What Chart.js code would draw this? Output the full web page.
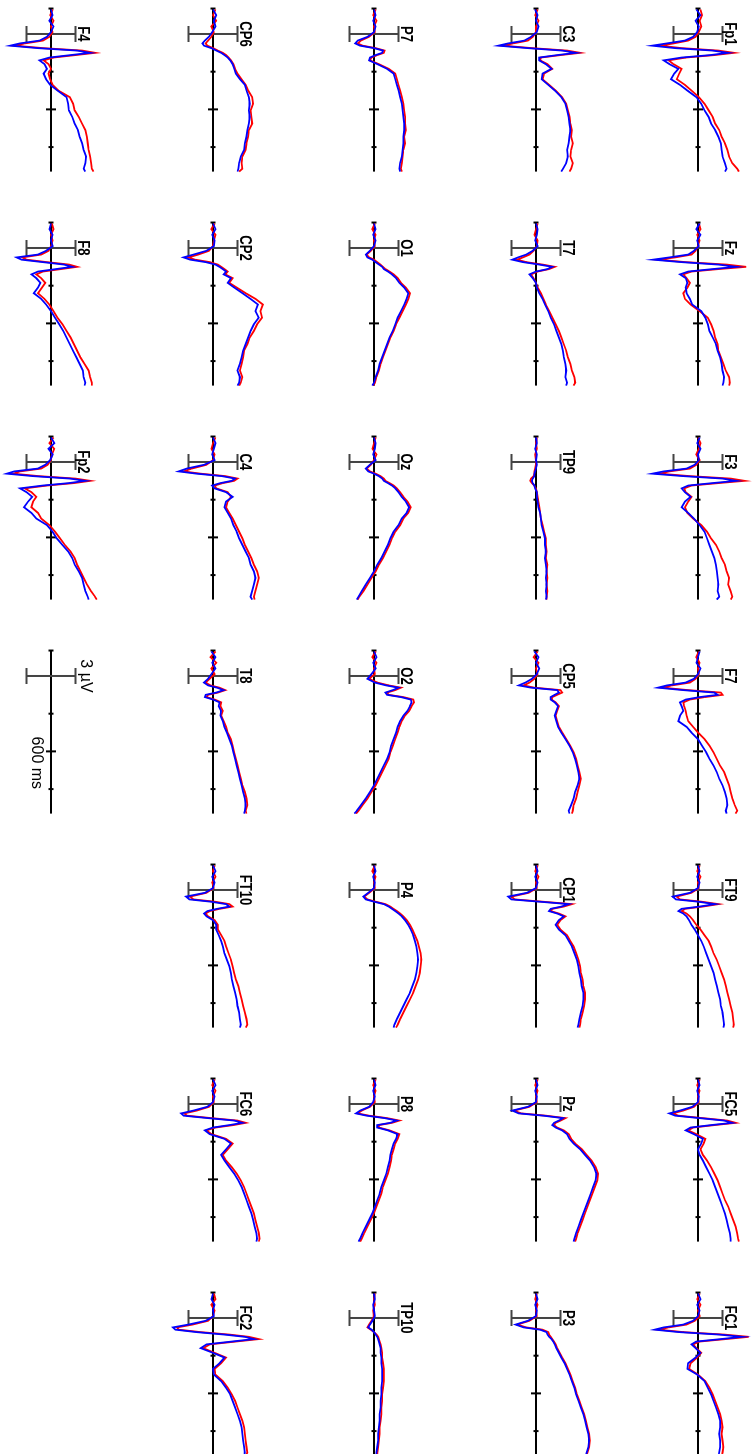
<!DOCTYPE html>
<html>
<head>
<meta charset="utf-8">
<title>ERP grand averages</title>
<script src="https://cdn.jsdelivr.net/npm/chart.js@4.4.1/dist/chart.umd.min.js"></script>
<style>
  html, body { margin: 0; padding: 0; background: #fff; overflow: hidden; }
  body { width: 753px; height: 1454px; position: relative; }
  /* the figure is laid out landscape and turned a quarter clockwise */
  #stage {
    position: absolute; left: 0; top: 0;
    width: 1454px; height: 753px;
    transform-origin: 0 0;
    transform: translate(753px, 0) rotate(90deg);
  }
  #stage canvas { position: absolute; }
</style>
</head>
<body>
<div id="stage"></div>
<script>
// time points (ms) shared by every trace
const times = [-130, -100, -70, -40, -10, 15, 35, 50, 62, 75, 88, 100, 112, 125, 140, 160, 185, 210,
               240, 270, 300, 335, 370, 405, 440, 475, 510, 545, 580, 615, 650, 685, 715, 730];

// amplitudes in µV, red = condition 1, blue = condition 2
const fp1Red  = [0.3,0.5,0.2,0.4,0.1,-0.3,-1.2,-3.0,-4.6,-2.0,2.5,4.4,2.0,-1.5,-3.6,-3.0,-2.0,-2.3,-2.6,-1.6,-0.8,0.1,0.8,1.3,1.8,2.1,2.6,2.9,3.3,3.6,3.8,4.2,4.8,5.0];
const fp1Blue = [-0.2,0.3,-0.3,0.1,-0.1,-0.6,-1.6,-3.8,-5.6,-2.8,1.8,3.7,1.5,-2.0,-4.2,-3.5,-2.4,-2.9,-3.3,-2.2,-1.3,-0.2,0.4,0.8,1.3,1.6,2.1,2.5,2.8,2.9,3.0,3.3,3.5,3.3];
const fzRed   = [0.1,0.3,-0.1,0.2,0.0,-0.3,-0.8,-2.8,-4.9,-1.5,3.5,5.9,2.5,-0.8,-1.8,-1.4,-1.0,-1.3,-1.8,-1.6,-0.9,0.2,1.2,1.6,1.9,2.1,2.4,2.5,2.8,3.1,3.4,3.8,3.9,3.8];
const fzBlue  = [0.2,-0.2,0.3,-0.1,0.1,-0.5,-1.2,-3.5,-5.5,-2.0,2.5,4.7,1.8,-1.2,-2.2,-1.5,-1.3,-1.5,-1.4,-1.0,-0.7,0.4,0.9,1.2,1.4,1.8,2.2,2.4,2.7,2.9,3.0,3.2,3.1,3.0];
const f3Red   = [0.0,0.3,0.1,-0.2,0.2,-0.2,-1.0,-3.5,-4.7,-1.0,4.0,5.7,2.5,-0.8,-1.7,-1.5,-0.8,-1.2,-1.6,-1.3,-0.6,0.4,1.1,1.6,2.2,2.6,2.9,3.3,3.5,3.8,3.7,4.0,4.2,4.0];
const f3Blue  = [0.2,-0.1,0.3,0.0,0.1,-0.4,-1.4,-4.2,-5.6,-1.8,3.0,4.7,1.8,-1.2,-2.0,-1.6,-0.9,-1.6,-2.0,-1.2,-0.5,0.2,0.8,1.1,1.4,1.7,2.0,2.2,2.3,2.4,2.5,2.4,2.6,2.3];
const f7Red   = [0.1,-0.2,0.2,0.0,0.1,-0.3,-1.0,-3.2,-4.3,-1.2,2.8,3.0,0.8,-1.0,-1.8,-1.7,-1.5,-1.4,-1.2,-0.6,0.0,0.8,1.4,1.9,2.3,2.7,3.2,3.5,3.8,4.0,4.2,4.5,4.8,4.6];
const f7Blue  = [0.2,0.0,-0.2,0.3,0.0,-0.5,-1.5,-3.8,-4.9,-1.8,2.0,2.4,0.2,-1.5,-2.2,-2.0,-1.8,-2.2,-2.4,-1.4,-0.8,0.0,0.5,1.0,1.4,1.9,2.3,2.6,3.0,3.3,3.5,3.6,3.4,3.5];
const ft9Red  = [0.2,-0.1,0.3,0.0,0.1,-0.8,-2.6,-2.2,0.4,2.5,0.6,-1.6,-2.0,-1.4,-1.0,-0.6,-0.2,0.3,0.8,1.3,1.6,1.9,2.3,2.6,2.9,3.2,3.4,3.6,3.8,4.0,4.2,4.3,4.4,4.3];
const ft9Blue = [0.0,0.2,-0.1,0.2,0.0,-1.0,-3.1,-2.7,0.0,2.1,0.2,-2.0,-2.4,-1.8,-1.4,-1.1,-0.8,-0.4,0.0,0.4,0.7,1.0,1.3,1.6,1.9,2.1,2.3,2.5,2.7,2.8,3.0,3.1,3.2,3.1];
const fc5Red  = [0.2,-0.1,0.2,0.0,0.1,-0.5,-1.8,-3.1,-2.4,0.6,3.6,4.6,2.0,-0.6,-1.2,-0.2,0.9,0.7,0.3,0.6,1.1,1.6,2.0,2.4,2.7,3.0,3.3,3.7,4.0,4.3,4.6,4.8,4.9,5.0];
const fc5Blue = [0.0,0.2,-0.1,0.1,0.0,-0.7,-2.2,-3.5,-2.8,0.2,3.2,4.2,1.6,-0.9,-1.5,-0.5,0.6,0.4,0.0,0.2,0.6,1.0,1.4,1.8,2.1,2.4,2.7,3.0,3.3,3.5,3.7,3.9,4.0,4.0];
const fc1Red  = [0.2,-0.1,0.3,0.0,0.2,-0.4,-1.4,-3.6,-4.8,-1.8,3.2,6.2,3.4,0.2,-0.6,-0.2,0.4,-0.1,-0.9,-1.1,0.0,0.9,1.4,1.8,2.1,2.4,2.7,2.9,3.0,2.9,3.0,3.1,3.0,2.9];
const fc1Blue = [0.0,0.3,-0.1,0.2,0.0,-0.6,-1.8,-4.2,-5.3,-2.3,2.6,5.4,2.8,-0.2,-0.8,-0.3,0.3,-0.3,-1.2,-1.3,-0.1,0.8,1.2,1.6,1.9,2.2,2.5,2.7,2.7,2.6,2.7,2.7,2.6,2.5];

const c3Red   = [0.2,-0.1,0.3,0.0,0.0,-0.4,-1.0,-2.8,-4.0,-0.5,3.8,5.4,3.0,0.6,0.5,1.4,2.0,1.0,0.8,1.6,2.4,3.2,3.7,3.9,4.1,4.2,4.4,4.3,4.5,4.3,4.2,4.5,4.3,4.1];
const c3Blue  = [-0.1,0.2,0.0,0.3,0.1,-0.6,-1.4,-3.4,-4.6,-1.0,3.2,4.9,2.6,0.4,0.4,1.2,1.9,0.8,0.7,1.5,2.3,3.1,3.6,3.8,4.0,4.1,4.2,4.1,4.0,3.8,3.9,3.7,3.3,3.1];
const t7Red   = [0.2,0.0,-0.2,0.2,0.1,-0.3,-0.8,-1.6,-2.3,-1.2,0.8,2.3,1.6,0.2,-0.6,-0.3,0.0,0.2,0.6,0.9,1.2,1.6,2.0,2.4,2.8,3.1,3.4,3.7,3.9,4.2,4.4,4.7,4.8,4.6];
const t7Blue  = [0.0,0.2,0.1,-0.1,0.2,-0.4,-1.2,-2.2,-2.9,-1.6,0.4,2.0,1.4,0.0,-0.8,-0.4,0.0,0.1,0.4,0.8,1.1,1.5,1.8,2.2,2.5,2.8,3.1,3.3,3.4,3.6,3.7,3.6,3.8,3.7];
const tp9Red  = [0.1,0.0,0.1,-0.1,0.0,0.0,-0.1,-0.2,-0.2,-0.3,-0.6,-0.7,-0.5,-0.2,0.0,0.1,0.2,0.3,0.4,0.5,0.6,0.8,1.0,1.2,1.2,1.3,1.2,1.4,1.3,1.4,1.3,1.4,1.3,1.3];
const tp9Blue = [0.0,0.1,-0.1,0.1,0.0,0.1,0.0,-0.1,-0.2,-0.2,-0.4,-0.5,-0.4,-0.2,-0.1,0.1,0.1,0.2,0.3,0.5,0.6,0.7,0.9,1.1,1.1,1.2,1.1,1.2,1.3,1.2,1.3,1.2,1.3,1.2];
const cp5Red  = [0.2,-0.3,0.3,0.0,0.2,-0.2,-0.8,-1.5,-0.2,3.0,3.2,2.6,2.0,1.9,2.4,2.8,2.6,2.4,2.6,2.8,3.2,3.7,4.2,4.6,4.9,5.1,5.3,5.5,5.3,5.1,4.9,4.6,4.5,4.4];
const cp5Blue = [-0.2,0.3,0.0,0.4,0.1,-0.5,-1.3,-2.1,-0.6,2.6,2.8,2.3,1.8,1.8,2.3,2.7,2.5,2.3,2.5,2.7,3.1,3.6,4.1,4.5,4.8,5.0,5.2,5.3,5.1,4.8,4.6,4.3,4.0,4.1];
const cp1Red  = [0.2,-0.1,0.3,0.0,0.1,-0.9,-3.0,-2.6,0.8,4.4,3.4,2.0,1.8,2.8,3.6,3.0,2.6,3.0,3.8,4.2,4.6,4.9,5.2,5.4,5.5,5.7,5.8,6.0,6.0,5.9,5.7,5.5,5.4,5.3];
const cp1Blue = [0.0,0.2,-0.1,0.2,0.0,-1.1,-3.4,-3.0,0.4,4.0,3.1,1.8,1.6,2.6,3.4,2.8,2.4,2.8,3.6,4.0,4.4,4.7,5.0,5.2,5.3,5.5,5.6,5.8,5.8,5.7,5.5,5.3,5.2,5.1];
const pzRed   = [0.2,-0.1,0.2,0.0,0.1,-0.8,-2.7,-1.8,1.2,3.6,3.0,2.4,2.2,2.6,3.4,4.0,4.3,4.8,5.6,6.2,6.8,7.3,7.6,7.5,7.2,6.9,6.6,6.3,6.0,5.7,5.4,5.1,4.9,4.8];
const pzBlue  = [0.0,0.2,-0.1,0.1,0.0,-1.0,-2.9,-2.1,0.9,3.3,2.8,2.2,2.0,2.4,3.2,3.8,4.1,4.6,5.4,6.0,6.6,7.1,7.4,7.3,7.0,6.7,6.4,6.1,5.8,5.5,5.2,4.9,4.7,4.6];
const p3Red   = [0.1,-0.1,0.2,0.0,0.1,-0.8,-2.3,-1.2,0.8,1.5,1.6,1.8,2.0,2.2,2.4,2.6,2.9,3.2,3.6,3.9,4.2,4.5,4.8,5.0,5.3,5.6,5.9,6.1,6.3,6.5,6.6,6.5,6.3,6.2];
const p3Blue  = [0.0,0.2,-0.1,0.1,0.0,-1.0,-2.5,-1.5,0.5,1.3,1.4,1.6,1.9,2.1,2.3,2.5,2.8,3.1,3.5,3.8,4.1,4.4,4.7,4.9,5.2,5.5,5.8,6.0,6.2,6.4,6.5,6.4,6.2,6.1];

const p7Red   = [0.2,-0.1,0.3,0.0,0.1,-0.6,-1.6,-2.0,-1.4,0.2,1.3,1.2,0.4,-0.3,-0.5,0.6,1.8,2.6,2.8,3.0,3.2,3.4,3.6,3.7,3.8,3.8,3.9,3.7,3.8,3.6,3.5,3.4,3.3,3.4];
const p7Blue  = [0.0,0.2,-0.1,0.2,0.0,-0.8,-2.0,-2.3,-1.7,0.0,1.1,1.0,0.2,-0.5,-0.6,0.4,1.6,2.4,2.6,2.8,3.0,3.2,3.4,3.5,3.6,3.7,3.7,3.6,3.6,3.5,3.4,3.2,3.1,3.2];
const o1Red   = [0.1,-0.2,0.2,0.0,0.1,-0.4,-0.9,-0.6,0.0,0.4,0.8,1.1,1.4,1.9,2.4,2.9,3.3,3.9,4.4,4.2,3.9,3.5,3.1,2.7,2.4,2.0,1.7,1.4,1.1,0.8,0.6,0.3,0.1,-0.1];
const o1Blue  = [0.0,0.2,-0.1,0.2,0.0,-0.5,-1.0,-0.8,-0.2,0.2,0.6,1.0,1.2,1.7,2.2,2.7,3.1,3.7,4.2,4.0,3.7,3.3,2.9,2.6,2.3,1.9,1.6,1.3,1.0,0.7,0.5,0.2,0.0,-0.2];
const ozRed   = [0.2,0.0,-0.2,0.3,0.0,-0.4,-0.9,-0.5,0.2,0.8,1.2,1.4,1.9,2.4,2.8,3.2,3.6,4.1,4.5,4.2,3.6,3.2,2.6,2.2,1.9,1.5,1.1,0.6,0.2,-0.3,-0.8,-1.3,-1.8,-2.0];
const ozBlue  = [0.0,0.2,0.1,-0.1,0.2,-0.5,-1.0,-0.7,0.0,0.6,1.0,1.2,1.7,2.2,2.6,3.0,3.4,3.9,4.3,4.0,3.4,3.0,2.4,2.0,1.7,1.3,0.9,0.4,0.0,-0.5,-1.0,-1.5,-1.9,-2.1];
const o2Red   = [0.2,-0.2,0.3,0.0,0.1,-0.6,0.4,1.8,3.3,2.6,1.6,1.8,3.6,4.8,4.9,4.6,4.3,3.8,3.4,3.1,2.9,2.6,2.3,2.0,1.8,1.4,1.0,0.6,0.2,-0.3,-0.8,-1.4,-1.9,-2.2];
const o2Blue  = [0.0,0.3,-0.1,0.2,-0.3,-0.8,0.1,1.5,3.0,2.3,1.4,1.6,3.3,4.5,4.6,4.4,4.1,3.6,3.2,2.9,2.7,2.4,2.1,1.9,1.6,1.2,0.8,0.4,0.0,-0.5,-1.0,-1.6,-2.1,-2.4];
const p4Red   = [0.1,-0.2,0.2,0.0,0.1,-0.6,-1.2,-0.8,0.2,1.4,2.0,2.4,2.8,3.2,3.6,4.0,4.4,4.7,5.0,5.3,5.5,5.7,5.8,5.7,5.6,5.4,5.1,4.8,4.4,4.0,3.6,3.2,2.9,2.7];
const p4Blue  = [0.0,0.2,-0.1,0.1,0.0,-0.7,-1.3,-1.0,0.0,1.2,1.8,2.2,2.6,3.0,3.4,3.8,4.2,4.5,4.8,5.0,5.2,5.3,5.4,5.3,5.2,5.0,4.7,4.4,4.0,3.6,3.2,2.8,2.5,2.4];
const p8Red   = [0.2,-0.1,0.2,0.0,0.1,-0.5,-1.5,-2.0,-0.6,1.6,3.1,2.2,0.6,0.6,1.9,3.1,2.9,2.6,2.4,2.2,2.1,1.9,1.7,1.4,1.1,0.9,0.6,0.3,0.0,-0.4,-0.8,-1.2,-1.5,-1.7];
const p8Blue  = [0.0,0.2,-0.1,0.1,-0.1,-0.6,-1.7,-2.2,-0.9,1.3,2.8,2.0,0.4,0.4,1.7,2.9,2.7,2.4,2.2,2.0,1.9,1.7,1.5,1.2,0.9,0.7,0.4,0.1,-0.2,-0.6,-1.0,-1.4,-1.7,-1.9];
const tp10Red  = [0.1,0.0,0.1,-0.1,0.0,-0.3,-0.6,-0.8,-0.4,0.0,0.3,0.5,0.6,0.7,0.8,0.9,1.0,1.0,1.1,1.2,1.2,1.2,1.1,1.0,1.0,0.9,0.9,0.8,0.7,0.7,0.6,0.5,0.4,0.4];
const tp10Blue = [0.0,0.1,-0.1,0.0,0.1,-0.2,-0.5,-0.7,-0.3,0.0,0.2,0.4,0.5,0.6,0.7,0.8,0.8,0.9,0.9,1.0,1.0,1.0,0.9,0.9,0.8,0.8,0.7,0.7,0.6,0.5,0.5,0.4,0.3,0.3];

const cp6Red  = [0.3,0.0,0.4,-0.2,0.1,-0.2,-0.6,-0.9,-0.7,0.0,0.6,1.2,1.6,1.9,2.2,2.5,2.7,3.0,3.5,4.0,4.3,4.8,4.9,4.6,4.7,4.8,4.4,4.3,4.1,4.0,3.6,3.5,3.6,3.2];
const cp6Blue = [0.0,0.4,0.1,0.3,-0.1,-0.5,-1.0,-1.3,-1.1,-0.2,0.4,1.0,1.4,1.8,2.1,2.4,2.6,2.8,3.3,3.9,4.1,4.4,4.5,4.4,4.5,4.4,4.2,4.1,3.9,3.8,3.4,3.2,3.1,3.0];
const cp2Red  = [0.2,-0.2,0.3,0.1,0.0,-0.5,-1.8,-3.0,-2.2,-0.4,0.6,1.0,1.4,1.8,1.5,2.4,2.0,2.9,4.0,5.2,6.1,5.8,6.0,5.4,5.0,4.5,4.2,3.8,3.7,3.5,3.3,3.6,3.4,3.2];
const cp2Blue = [0.0,0.3,-0.1,0.2,0.1,-0.8,-2.4,-3.6,-2.8,-0.9,0.3,0.8,1.2,1.6,1.3,2.2,1.8,2.6,3.6,4.6,5.5,5.2,5.6,5.0,4.6,4.3,4.0,3.7,3.5,3.3,3.0,3.3,3.2,3.0];
const c4Red   = [0.3,0.0,-0.2,0.2,0.0,-0.8,-2.6,-3.6,-1.5,1.5,3.0,2.6,1.2,0.2,0.4,1.8,2.2,1.8,1.6,2.0,2.4,2.8,3.2,3.6,3.9,4.3,4.7,5.0,5.4,5.6,5.4,5.2,5.0,5.1];
const c4Blue  = [0.0,0.3,0.1,-0.1,0.2,-1.1,-3.2,-4.2,-2.0,1.1,2.7,2.3,0.9,-0.1,0.2,1.6,2.4,1.6,1.4,1.8,2.2,2.5,2.9,3.2,3.6,4.0,4.4,4.6,5.0,5.2,5.0,4.8,4.6,4.8];
const t8Red   = [0.3,-0.3,0.4,-0.2,0.2,-0.4,-0.9,-0.3,0.8,1.5,0.6,-0.6,-0.8,0.2,1.0,0.9,1.2,1.0,1.3,1.6,1.8,2.2,2.4,2.6,2.8,3.0,3.2,3.4,3.6,3.9,4.1,4.2,4.0,4.1];
const t8Blue  = [-0.2,0.3,-0.1,0.3,-0.2,-0.6,-1.1,-0.6,0.5,1.3,0.4,-0.9,-1.0,0.0,0.8,0.7,1.0,0.9,1.2,1.4,1.7,2.0,2.3,2.5,2.7,2.9,3.1,3.3,3.5,3.7,3.9,4.0,3.9,3.8];
const ft10Red  = [0.2,0.0,0.3,-0.1,0.1,-0.8,-2.8,-2.4,0.2,2.0,2.4,0.8,-0.4,-0.9,-0.6,0.2,0.6,0.6,1.0,1.4,1.6,1.9,2.2,2.4,2.6,2.8,3.1,3.3,3.5,3.7,3.9,4.1,4.2,4.0];
const ft10Blue = [0.0,0.3,-0.1,0.2,0.0,-1.0,-3.3,-2.9,-0.3,1.6,2.0,0.5,-0.7,-1.1,-0.8,0.0,0.4,0.4,0.7,1.0,1.2,1.4,1.7,2.0,2.2,2.3,2.5,2.7,2.9,3.0,3.2,3.3,3.4,3.3];
const fc6Red  = [0.2,-0.1,0.3,0.0,0.1,-0.5,-2.0,-3.5,-3.2,-0.2,3.0,4.0,2.5,0.3,-0.8,-0.2,1.6,2.4,1.8,1.2,1.6,2.3,2.9,3.4,3.8,4.1,4.4,4.7,5.0,5.2,5.4,5.6,5.7,5.6];
const fc6Blue = [0.0,0.3,-0.1,0.2,0.0,-0.7,-2.4,-3.9,-3.6,-0.6,2.6,3.6,2.0,0.0,-1.0,-0.4,1.4,2.2,1.6,1.0,1.4,2.0,2.6,3.1,3.5,3.8,4.1,4.4,4.7,4.9,5.1,5.3,5.4,5.3];
const fc2Red  = [0.1,0.3,-0.2,0.2,0.0,-0.6,-2.5,-4.4,-4.2,-1.5,2.0,4.4,5.6,2.8,-0.4,-1.2,0.2,1.6,1.0,0.2,0.3,1.2,1.8,2.3,2.7,3.0,3.3,3.6,3.8,3.9,4.0,4.1,4.2,4.0];
const fc2Blue = [0.0,-0.2,0.2,0.0,0.1,-0.9,-3.0,-4.9,-4.6,-2.0,1.4,3.9,5.0,2.3,-0.8,-1.5,0.0,1.4,0.8,0.0,0.1,1.0,1.6,2.1,2.4,2.7,3.0,3.3,3.5,3.6,3.7,3.8,3.9,3.8];

const f4Red   = [0.2,-0.1,0.3,0.0,0.2,-0.2,-1.0,-3.2,-4.4,-1.0,3.8,5.4,3.0,0.3,-0.9,-0.3,0.0,-0.3,-0.1,0.2,0.9,2.3,2.7,2.9,3.4,3.8,4.2,4.4,4.5,4.6,4.8,4.9,5.0,5.2];
const f4Blue  = [0.0,0.2,-0.2,0.3,0.0,-0.5,-1.4,-3.8,-5.0,-1.6,3.2,4.8,2.4,-0.2,-1.4,-0.8,-0.5,-0.9,-0.6,-0.1,0.8,1.9,2.1,2.2,2.6,2.9,3.3,3.5,3.8,4.0,4.3,4.2,4.0,4.2];
const f8Red   = [0.1,0.3,0.0,0.2,0.0,-0.3,-1.2,-3.5,-3.0,-0.5,2.2,3.2,1.2,-1.0,-1.8,-1.2,-0.7,-1.1,-1.6,-0.8,-0.2,0.3,0.8,1.4,1.9,2.4,2.8,3.2,3.6,4.1,4.6,4.8,5.0,5.0];
const f8Blue  = [0.0,-0.2,0.2,0.0,0.2,-0.6,-1.6,-4.2,-3.6,-1.0,1.6,2.6,0.6,-1.6,-2.4,-1.8,-1.3,-1.6,-2.1,-1.2,-0.6,0.0,0.5,1.0,1.5,1.9,2.3,2.7,3.1,3.5,3.9,4.0,4.2,4.1];
const fp2Red  = [0.3,-0.2,0.4,0.1,0.0,-0.4,-1.2,-3.8,-4.6,-1.5,3.0,4.8,2.8,-0.5,-3.2,-2.4,-1.8,-2.2,-2.4,-1.6,-1.2,-0.2,0.5,1.1,1.7,2.4,2.9,3.2,3.6,4.0,4.4,4.9,5.4,5.6];
const fp2Blue = [0.0,0.4,-0.3,0.2,-0.1,-0.7,-1.6,-4.5,-5.4,-2.2,2.3,4.2,2.2,-1.0,-3.8,-3.0,-2.3,-2.8,-3.3,-2.4,-1.8,-0.5,0.2,0.7,1.4,2.1,2.6,2.9,3.4,3.8,4.0,4.2,4.5,4.6];

// columns of the picture, left to right; rows top to bottom
const gridColumns = [
  ['F4', 'F8', 'Fp2', 'legend', null, null, null],
  ['CP6', 'CP2', 'C4', 'T8', 'FT10', 'FC6', 'FC2'],
  ['P7', 'O1', 'Oz', 'O2', 'P4', 'P8', 'TP10'],
  ['C3', 'T7', 'TP9', 'CP5', 'CP1', 'Pz', 'P3'],
  ['Fp1', 'Fz', 'F3', 'F7', 'FT9', 'FC5', 'FC1']
];

// axis ticks (ms) and the calibration
const timeTicks = [200, 400, 600];
const scaleBar = 3;          // µV
const scaleText = '3 \u00b5V';
const timeText = '600 ms';

const series = {
  Fp1: [fp1Red, fp1Blue], Fz: [fzRed, fzBlue], F3: [f3Red, f3Blue], F7: [f7Red, f7Blue],
  FT9: [ft9Red, ft9Blue], FC5: [fc5Red, fc5Blue], FC1: [fc1Red, fc1Blue],
  C3: [c3Red, c3Blue], T7: [t7Red, t7Blue], TP9: [tp9Red, tp9Blue], CP5: [cp5Red, cp5Blue],
  CP1: [cp1Red, cp1Blue], Pz: [pzRed, pzBlue], P3: [p3Red, p3Blue],
  P7: [p7Red, p7Blue], O1: [o1Red, o1Blue], Oz: [ozRed, ozBlue], O2: [o2Red, o2Blue],
  P4: [p4Red, p4Blue], P8: [p8Red, p8Blue], TP10: [tp10Red, tp10Blue],
  CP6: [cp6Red, cp6Blue], CP2: [cp2Red, cp2Blue], C4: [c4Red, c4Blue], T8: [t8Red, t8Blue],
  FT10: [ft10Red, ft10Blue], FC6: [fc6Red, fc6Blue], FC2: [fc2Red, fc2Blue],
  F4: [f4Red, f4Blue], F8: [f8Red, f8Blue], Fp2: [fp2Red, fp2Blue]
};

// geometry (in the unrotated layout: x = time, y = amplitude)
const PX_PER_MS = 0.1885;
const PX_PER_UV = 8.17;
const T_START = -135, T_END = 730;
const CV_W = 190, CV_H = 160;
const X_MIN = -175;
const ROW0 = 34.3, ROW_STEP = 213.9;   // t = 0 position of each row
const COL0 = 51, COL_STEP = 161.67;    // zero line of each column, measured on the page
const PAGE_W = 753;
const FONT = '"Liberation Sans", Arial, sans-serif';

const eegAxes = {
  id: 'eegAxes',
  beforeDatasetsDraw(chart, args, opts) {
    const ctx = chart.ctx;
    const xs = chart.scales.x, ys = chart.scales.y;
    const y0 = ys.getPixelForValue(0);
    const x0 = xs.getPixelForValue(0);
    ctx.save();
    ctx.lineCap = 'butt';

    // time axis
    ctx.strokeStyle = '#000';
    ctx.lineWidth = 2;
    ctx.beginPath();
    ctx.moveTo(xs.getPixelForValue(T_START), y0);
    ctx.lineTo(xs.getPixelForValue(T_END), y0);
    const xa = xs.getPixelForValue(T_START);
    ctx.moveTo(xa, y0 - 2.5);
    ctx.lineTo(xa, y0 + 2.5);
    timeTicks.forEach((t, i) => {
      const x = xs.getPixelForValue(t);
      const h = i === 1 ? 5 : 2.5;
      ctx.moveTo(x, y0 - h);
      ctx.lineTo(x, y0 + h);
    });
    ctx.stroke();

    // calibration bar at stimulus onset
    const yTop = ys.getPixelForValue(scaleBar), yBot = ys.getPixelForValue(-scaleBar);
    ctx.strokeStyle = '#444';
    ctx.lineWidth = 2;
    ctx.beginPath();
    ctx.moveTo(x0, yTop); ctx.lineTo(x0, yBot);
    ctx.moveTo(x0 - 8, yTop); ctx.lineTo(x0 + 8, yTop);
    ctx.moveTo(x0 - 8, yBot); ctx.lineTo(x0 + 8, yBot);
    ctx.stroke();

    ctx.fillStyle = '#000';
    if (opts.legend) {
      ctx.font = '16px ' + FONT;
      ctx.textAlign = 'center';
      ctx.textBaseline = 'bottom';
      ctx.fillText(scaleText, x0, yTop - 2);
      ctx.textAlign = 'right';
      ctx.textBaseline = 'top';
      ctx.fillText(timeText, xs.getPixelForValue(600), y0 + 7);
    } else {
      // narrow bold label sitting on the calibration cap
      ctx.font = 'bold 16px ' + FONT;
      ctx.textAlign = 'center';
      ctx.textBaseline = 'alphabetic';
      ctx.translate(x0, yTop - 2);
      ctx.scale(0.82, 1);
      ctx.fillText(opts.label, 0, 0);
    }
    ctx.restore();
  }
};

const stage = document.getElementById('stage');

gridColumns.forEach((column, c) => {
  column.forEach((name, r) => {
    if (!name) return;
    const canvas = document.createElement('canvas');
    canvas.width = CV_W;
    canvas.height = CV_H;
    const zeroT = -X_MIN * PX_PER_MS;
    canvas.style.left = (ROW0 + r * ROW_STEP - zeroT) + 'px';
    canvas.style.top = (PAGE_W - (COL0 + c * COL_STEP) - CV_H / 2) + 'px';
    stage.appendChild(canvas);

    const isLegend = name === 'legend';
    const datasets = [];
    if (!isLegend) {
      const [red, blue] = series[name];
      datasets.push({
        data: times.map((t, i) => ({ x: t, y: blue[i] })),
        borderColor: '#0000ff', borderWidth: 1.8, order: 0
      });
      datasets.push({
        data: times.map((t, i) => ({ x: t, y: red[i] })),
        borderColor: '#ff0000', borderWidth: 1.8, order: 1
      });
    }

    new Chart(canvas, {
      type: 'line',
      data: { datasets },
      options: {
        responsive: false,
        animation: false,
        events: [],
        layout: { padding: 0, autoPadding: false },
        elements: { point: { radius: 0 }, line: { tension: 0, fill: false } },
        scales: {
          x: { type: 'linear', display: false, min: X_MIN, max: X_MIN + CV_W / PX_PER_MS },
          y: { type: 'linear', display: false, min: -CV_H / 2 / PX_PER_UV, max: CV_H / 2 / PX_PER_UV }
        },
        plugins: {
          legend: { display: false },
          tooltip: { enabled: false },
          eegAxes: { label: name, legend: isLegend }
        }
      },
      plugins: [eegAxes]
    });
  });
});
</script>
</body>
</html>
